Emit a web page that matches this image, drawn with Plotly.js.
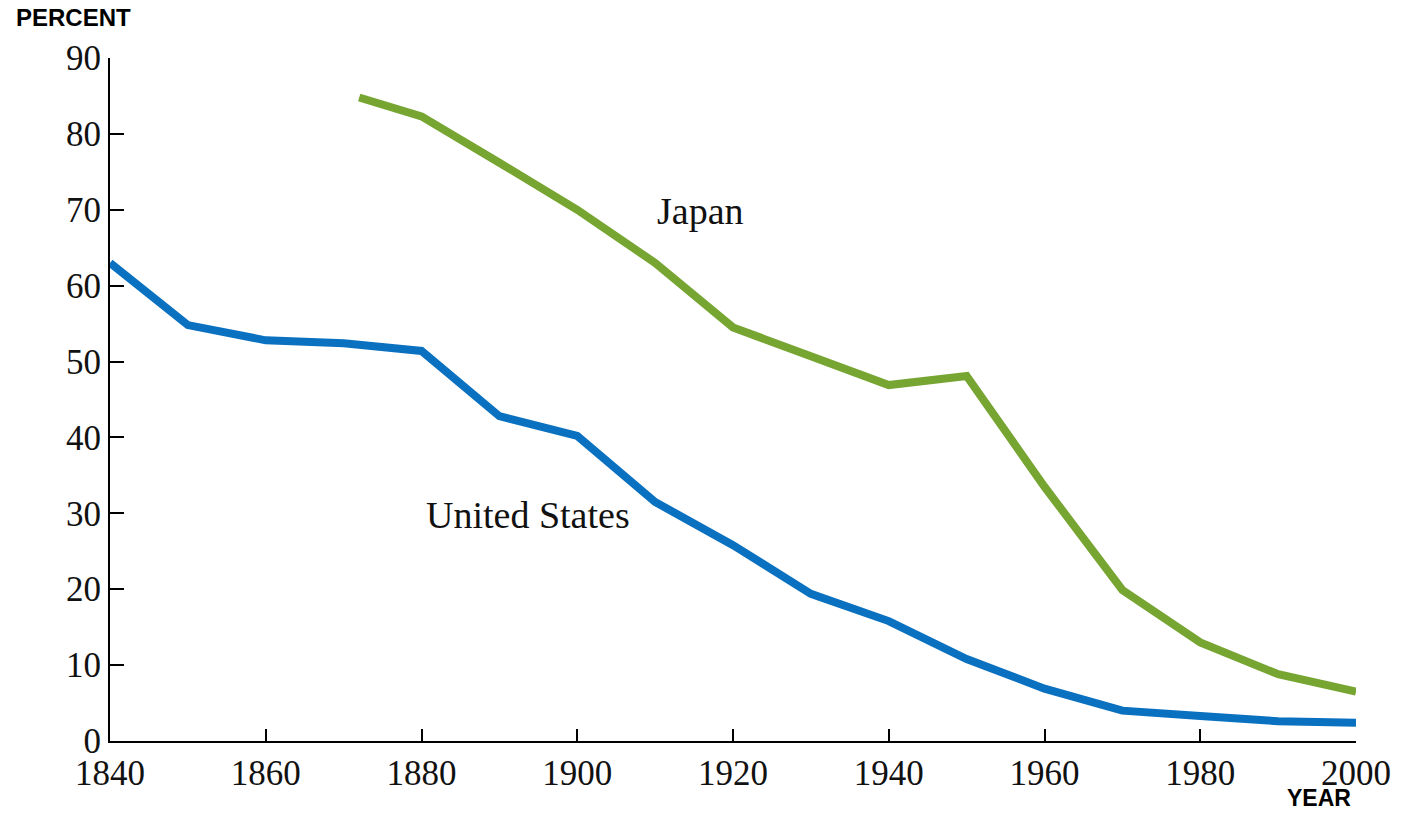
<!DOCTYPE html>
<html>
<head>
<meta charset="utf-8">
<script src="https://cdn.plot.ly/plotly-3.0.1.min.js"></script>
<style>
  html, body { margin: 0; padding: 0; background: #fff; }
  #chart { width: 1402px; height: 815px; }
</style>
</head>
<body>
<div id="chart"></div>
<script>
var usYears = [1840, 1850, 1860, 1870, 1880, 1890, 1900, 1910, 1920, 1930, 1940, 1950, 1960, 1970, 1980, 1990, 2000];
var usValues = [63, 54.8, 52.8, 52.4, 51.4, 42.8, 40.2, 31.5, 25.8, 19.4, 15.8, 10.8, 6.9, 4.0, 3.3, 2.6, 2.4];

var japanYears = [1872, 1880, 1890, 1900, 1910, 1920, 1930, 1940, 1950, 1960, 1970, 1980, 1990, 2000];
var japanValues = [84.8, 82.3, 76.2, 70, 63, 54.5, 50.7, 46.9, 48.1, 33.5, 19.9, 13, 8.8, 6.5];

var serif = "Liberation Serif, Times New Roman, serif";
var sans = "Liberation Sans, Arial, sans-serif";

var us = {
  x: usYears,
  y: usValues,
  type: 'scatter',
  mode: 'lines',
  name: 'United States',
  line: {color: '#0a70c0', width: 8}
};

var japan = {
  x: japanYears,
  y: japanValues,
  type: 'scatter',
  mode: 'lines',
  name: 'Japan',
  line: {color: '#77a532', width: 8}
};

// plot area spans x 110..1356, y 58..741
var plotW = 1402 - 110 - 46;

var layout = {
  width: 1402,
  height: 815,
  margin: {l: 110, r: 46, t: 58, b: 74},
  showlegend: false,
  paper_bgcolor: '#fff',
  plot_bgcolor: '#fff',
  xaxis: {
    range: [1840, 2000],
    dtick: 20,
    tick0: 1840,
    ticks: 'inside',
    ticklen: 12,
    tickwidth: 2,
    tickcolor: '#000',
    showline: true,
    linecolor: '#000',
    linewidth: 2,
    showgrid: false,
    zeroline: false,
    tickfont: {family: serif, size: 35, color: '#111'}
  },
  yaxis: {
    range: [0, 90],
    dtick: 10,
    ticks: 'inside',
    ticklen: 14,
    tickwidth: 2,
    tickcolor: '#000',
    showline: true,
    linecolor: '#000',
    linewidth: 2,
    showgrid: false,
    zeroline: false,
    tickfont: {family: serif, size: 35, color: '#111'}
  },
  annotations: [
    {x: (14 - 110) / plotW, y: 1, xref: 'paper', yref: 'paper',
     xanchor: 'left', yanchor: 'top', yshift: 56,
     text: '<b>PERCENT</b>', showarrow: false,
     font: {family: sans, size: 24, color: '#000'}},
    {x: (1353 - 110) / plotW, y: 0, xref: 'paper', yref: 'paper',
     xanchor: 'right', yanchor: 'bottom', yshift: -72,
     text: '<b>YEAR</b>', showarrow: false,
     font: {family: sans, size: 23, color: '#000'}},
    {x: 1915.8, y: 69.8, xref: 'x', yref: 'y', xanchor: 'center', yanchor: 'middle',
     text: 'Japan', showarrow: false,
     font: {family: serif, size: 38, color: '#111'}},
    {x: 1893.7, y: 29.8, xref: 'x', yref: 'y', xanchor: 'center', yanchor: 'middle',
     text: 'United States', showarrow: false,
     font: {family: serif, size: 38, color: '#111'}}
  ]
};

Plotly.newPlot('chart', [us, japan], layout, {displayModeBar: false});
</script>
</body>
</html>
